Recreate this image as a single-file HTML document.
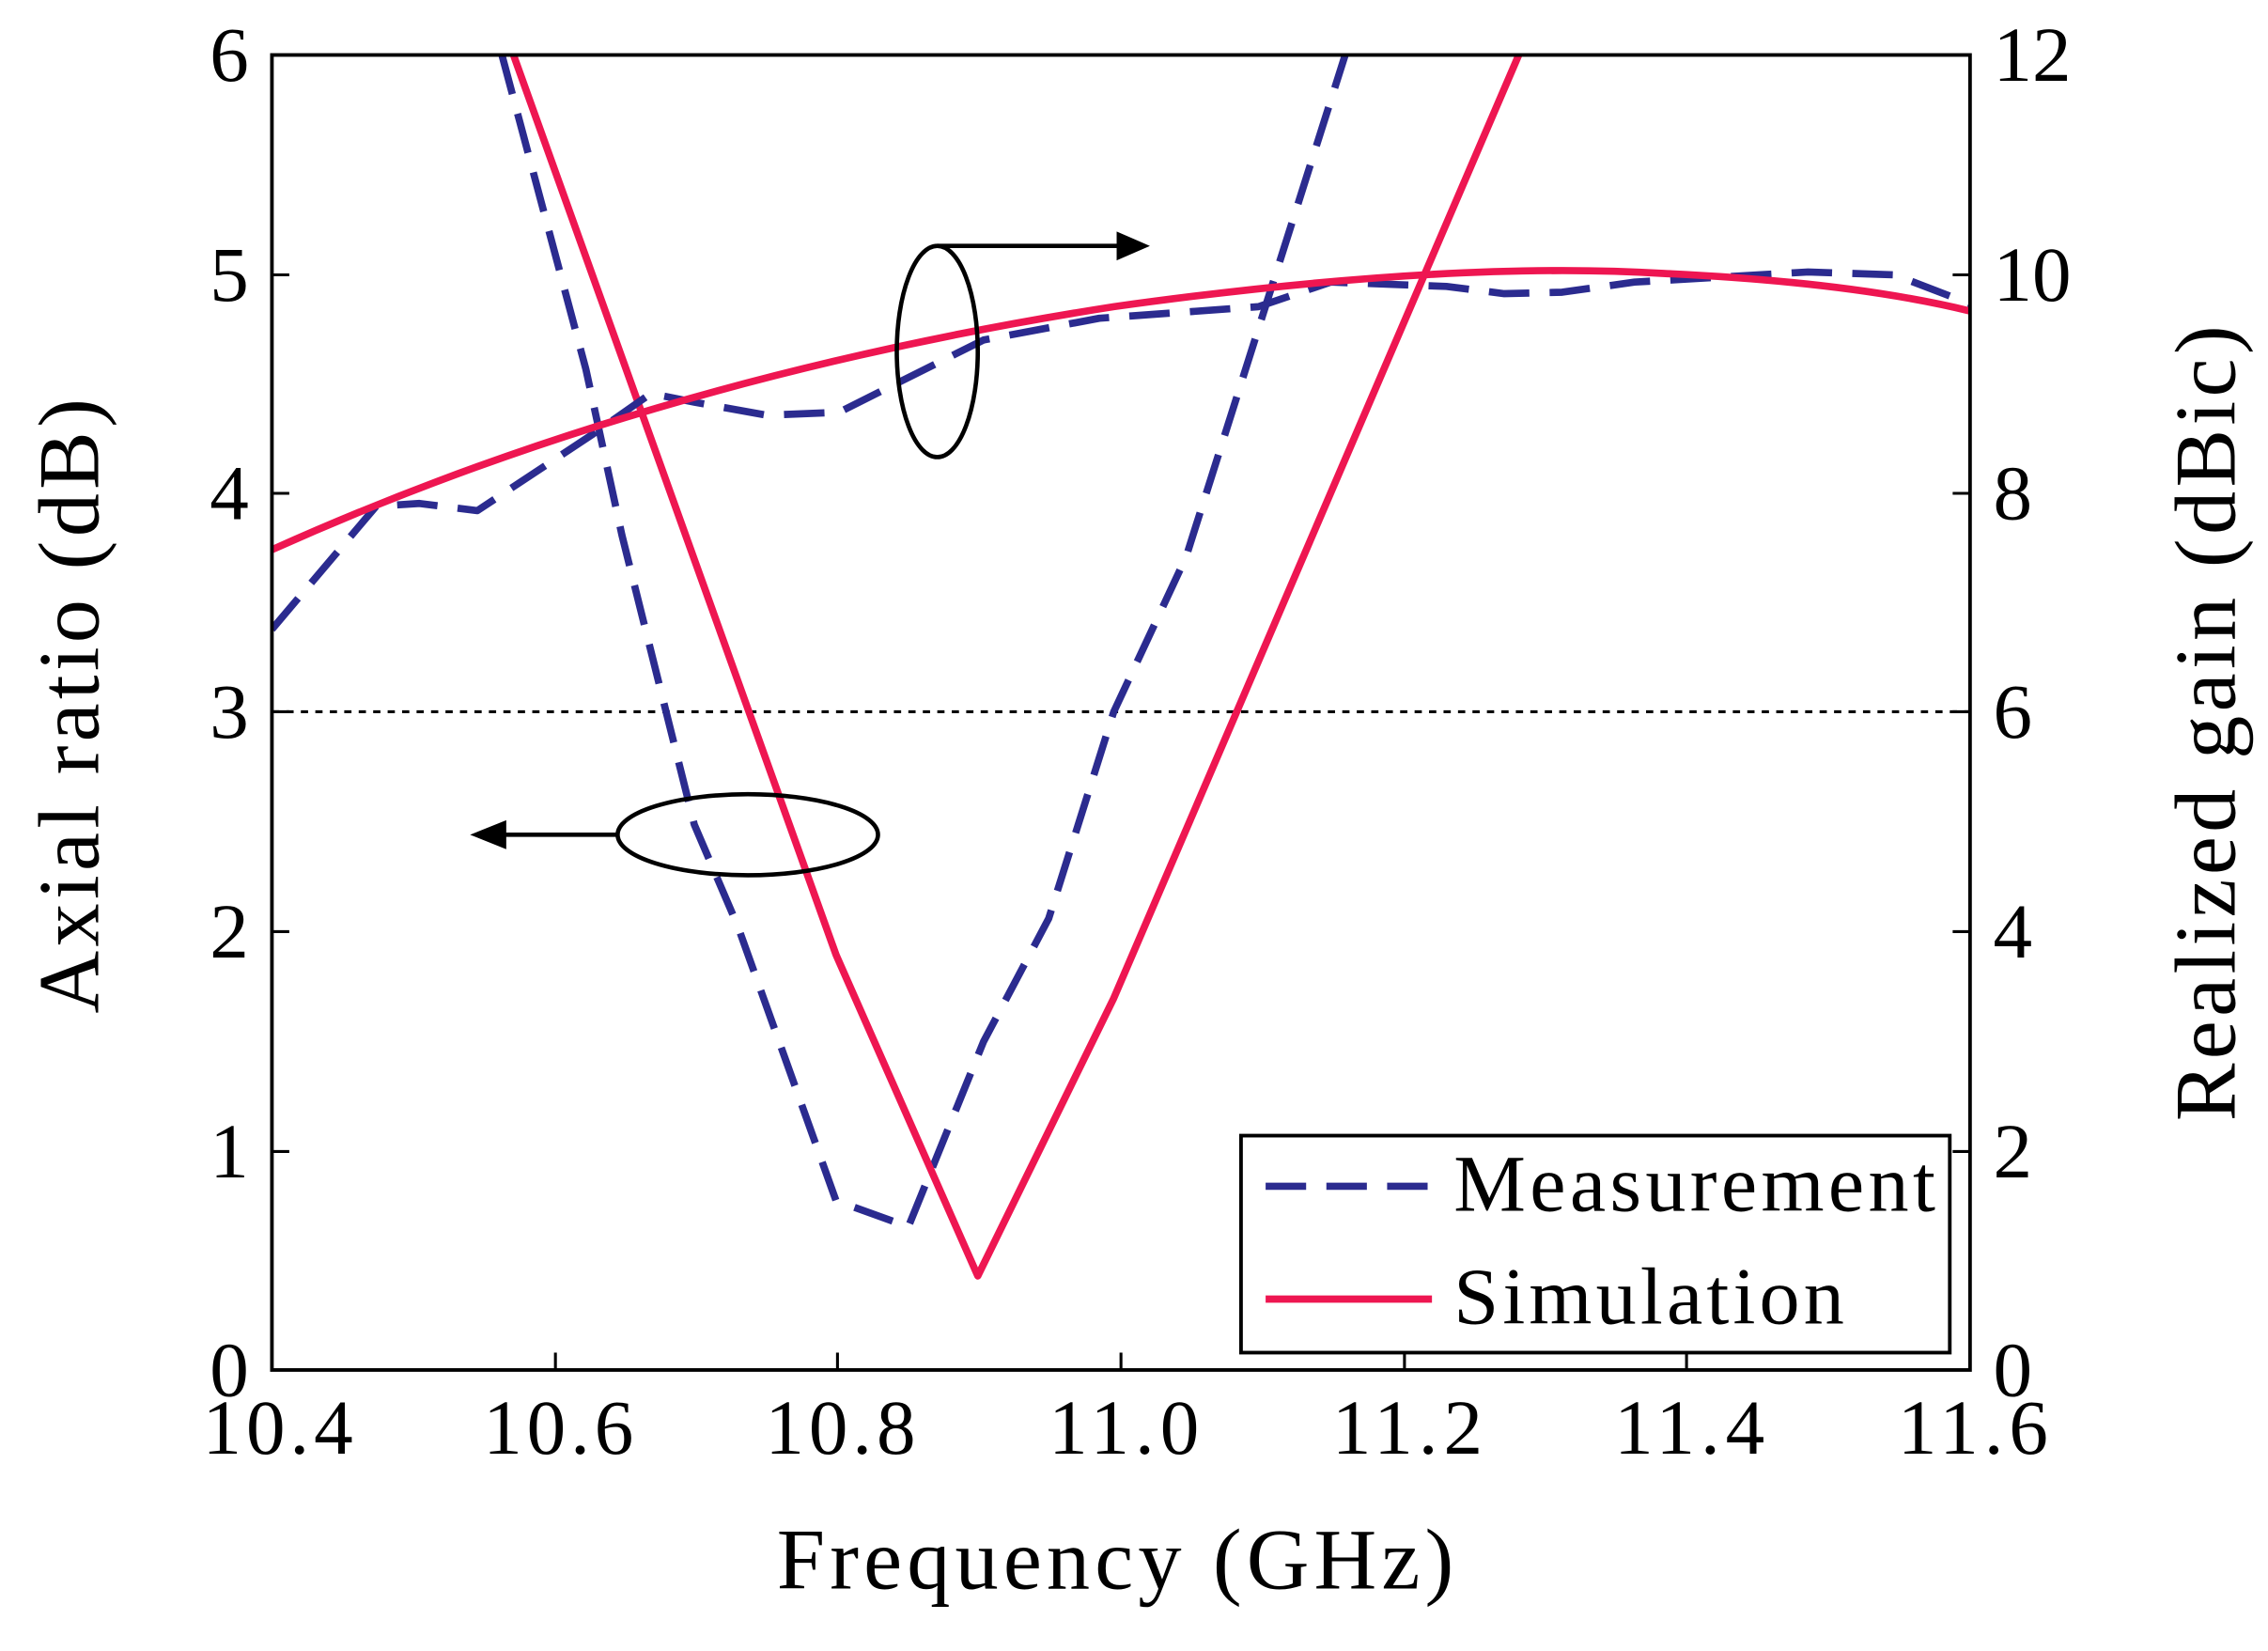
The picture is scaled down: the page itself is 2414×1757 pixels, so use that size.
<!DOCTYPE html>
<html><head><meta charset="utf-8"><style>html,body{margin:0;padding:0;background:#fff}</style></head>
<body>
<svg width="2414" height="1752" viewBox="0 0 1568 1138" xmlns="http://www.w3.org/2000/svg" font-family="Liberation Serif, serif">
<rect width="1568" height="1138" fill="#fff"/>
<defs><clipPath id="c"><rect x="188" y="38" width="1174" height="909"/></clipPath></defs>
<line x1="188" y1="492" x2="1362" y2="492" stroke="#000" stroke-width="2" stroke-dasharray="5,5"/>
<g clip-path="url(#c)" fill="none" stroke-width="5" stroke-linejoin="round">
<polyline stroke="#2b2b8f" stroke-dasharray="28,14" points="347,38 405,255 430,370 480,570 510,640 578,830 628,848 680,720 725,635 770,492 820,385 930,38"/>
<polyline stroke="#ee1651" points="355,38 578,660 676,882 770,690 1050,38"/>
<polyline stroke="#2b2b8f" stroke-dasharray="28,14" points="188,435 260,350 290,348 330,353 410,300 450,272 480,278 530,287 580,285 620,265 680,235 760,220 870,212 920,195 1000,198 1040,203 1080,202 1130,195 1250,188 1310,190 1362,210"/>
<path stroke="#ee1651" d="M188,380 Q450,262 770,212 Q1000,180 1150,189 Q1280,195 1362,215"/>
</g>
<rect x="188" y="38" width="1174" height="909" fill="none" stroke="#000" stroke-width="2.5"/>
<g stroke="#000" stroke-width="2">
<line x1="188" y1="190" x2="200" y2="190"/><line x1="188" y1="341" x2="200" y2="341"/><line x1="188" y1="492" x2="200" y2="492"/><line x1="188" y1="644" x2="200" y2="644"/><line x1="188" y1="796" x2="200" y2="796"/>
<line x1="1362" y1="190" x2="1350" y2="190"/><line x1="1362" y1="341" x2="1350" y2="341"/><line x1="1362" y1="492" x2="1350" y2="492"/><line x1="1362" y1="644" x2="1350" y2="644"/><line x1="1362" y1="796" x2="1350" y2="796"/>
<line x1="384" y1="947" x2="384" y2="935"/><line x1="579" y1="947" x2="579" y2="935"/><line x1="775" y1="947" x2="775" y2="935"/><line x1="971" y1="947" x2="971" y2="935"/><line x1="1166" y1="947" x2="1166" y2="935"/>
</g>
<g font-size="54" fill="#000" text-anchor="end">
<text x="172" y="56">6</text><text x="172" y="208">5</text><text x="172" y="359">4</text><text x="172" y="510">3</text><text x="172" y="662">2</text><text x="172" y="814">1</text><text x="172" y="965">0</text>
</g>
<g font-size="54" fill="#000" text-anchor="start">
<text x="1378" y="56" textLength="54">12</text><text x="1378" y="208" textLength="54">10</text><text x="1378" y="359">8</text><text x="1378" y="510">6</text><text x="1378" y="662">4</text><text x="1378" y="814">2</text><text x="1378" y="965">0</text>
</g>
<g font-size="54" fill="#000" text-anchor="middle">
<text x="192" y="1005" textLength="104">10.4</text><text x="386" y="1005" textLength="104">10.6</text><text x="581" y="1005" textLength="104">10.8</text><text x="777" y="1005" textLength="104">11.0</text><text x="973" y="1005" textLength="104">11.2</text><text x="1168" y="1005" textLength="104">11.4</text><text x="1364" y="1005" textLength="104">11.6</text>
<text x="771" y="1098" font-size="60" textLength="468">Frequency (GHz)</text>
<text transform="translate(68,488) rotate(-90)" font-size="60" textLength="425">Axial ratio (dB)</text>
<text transform="translate(1545,500) rotate(-90)" font-size="60" textLength="550">Realized gain (dBic)</text>
</g>
<g fill="none" stroke="#000" stroke-width="3">
<ellipse cx="648" cy="243" rx="28" ry="73"/>
<line x1="648" y1="170" x2="775" y2="170"/>
<ellipse cx="517" cy="577" rx="90" ry="28"/>
<line x1="427" y1="577" x2="348" y2="577"/>
</g>
<polygon points="795,170 772,160 772,180" fill="#000"/>
<polygon points="325,577 350,567 350,587" fill="#000"/>
<rect x="858" y="785" width="490" height="150" fill="#fff" stroke="#000" stroke-width="2.5"/>
<line x1="875" y1="820" x2="990" y2="820" stroke="#2b2b8f" stroke-width="5" stroke-dasharray="28,14"/>
<line x1="875" y1="898" x2="990" y2="898" stroke="#ee1651" stroke-width="5"/>
<text x="1005" y="837" font-size="56" textLength="333">Measurement</text>
<text x="1005" y="915" font-size="56" textLength="270">Simulation</text>
</svg>
</body></html>
